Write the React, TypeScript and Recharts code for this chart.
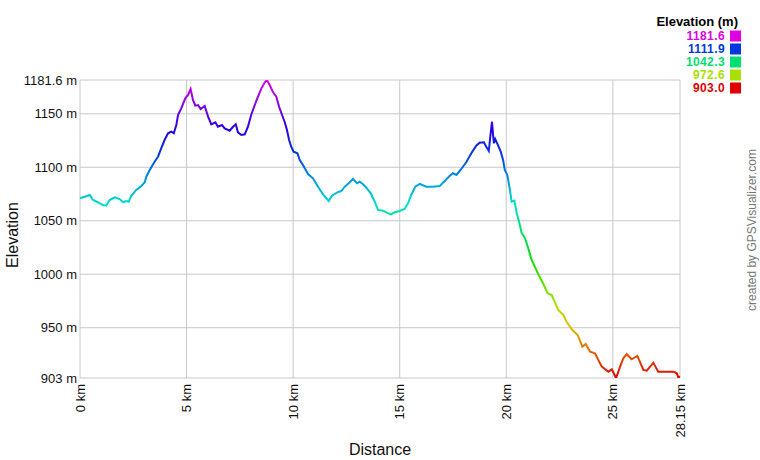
import React from "react";
import {
  LineChart,
  Line,
  XAxis,
  YAxis,
  CartesianGrid,
} from "recharts";

// distance along the track (km) and elevation (m)
const distanceKm = [
  0.0, 0.22, 0.46, 0.61, 0.84, 1.08, 1.23, 1.39, 1.63, 1.86, 2.02, 2.17, 2.28,
  2.41, 2.64, 2.88, 3.04, 3.11, 3.27, 3.5, 3.66, 3.81, 3.97, 4.13, 4.28, 4.4,
  4.52, 4.6, 4.75, 4.94, 5.07, 5.19, 5.3, 5.41, 5.54, 5.66, 5.85, 6.01, 6.16,
  6.35, 6.47, 6.66, 6.79, 7.02, 7.18, 7.31, 7.41, 7.57, 7.73, 7.88, 8.04, 8.2,
  8.35, 8.51, 8.67, 8.77, 8.9, 9.06, 9.21, 9.34, 9.48, 9.6, 9.71, 9.81, 9.91,
  10.02, 10.2, 10.31, 10.46, 10.7, 10.93, 11.17, 11.4, 11.67, 11.82, 12.07,
  12.26, 12.42, 12.61, 12.81, 13.0, 13.12, 13.28, 13.43, 13.64, 13.83, 13.98,
  14.22, 14.37, 14.58, 14.77, 15.0, 15.23, 15.39, 15.54, 15.73, 15.94, 16.25,
  16.56, 16.88, 17.11, 17.35, 17.5, 17.66, 17.89, 18.12, 18.36, 18.59, 18.75,
  18.95, 19.06, 19.18, 19.25, 19.33, 19.38, 19.42, 19.48, 19.61, 19.74, 19.85,
  19.93, 20.05, 20.13, 20.17, 20.25, 20.38, 20.49, 20.6, 20.72, 20.88, 21.03,
  21.19, 21.35, 21.54, 21.74, 21.94, 22.13, 22.29, 22.44, 22.68, 22.83, 23.1,
  23.35, 23.57, 23.73, 23.93, 24.16, 24.48, 24.79, 24.95, 25.15, 25.34, 25.49,
  25.65, 25.88, 26.15, 26.43, 26.59, 26.9, 27.13, 27.45, 27.84, 28.0, 28.07,
  28.15,
];

const elevationM = [
  1071.0, 1072.5, 1074.1, 1069.4, 1067.3, 1064.7, 1064.1, 1069.4, 1071.9,
  1070.3, 1067.3, 1068.5, 1067.8, 1073.4, 1078.8, 1082.5, 1086.0, 1091.2,
  1097.5, 1105.2, 1109.9, 1117.7, 1125.5, 1131.8, 1133.3, 1131.8, 1139.5,
  1148.9, 1155.1, 1164.5, 1167.6, 1173.2, 1162.9, 1157.6, 1158.2, 1154.5,
  1157.3, 1147.3, 1140.2, 1142.1, 1137.9, 1139.5, 1136.4, 1134.2, 1137.9,
  1140.2, 1132.7, 1130.2, 1130.8, 1137.9, 1149.5, 1158.2, 1166.0, 1173.8,
  1179.4, 1181.6, 1176.9, 1170.1, 1166.0, 1156.6, 1148.9, 1142.6, 1134.9,
  1125.5, 1119.2, 1114.6, 1113.1, 1106.8, 1102.1, 1093.7, 1089.7, 1081.8,
  1074.7, 1068.5, 1073.4, 1076.6, 1077.8, 1081.8, 1085.0, 1089.0, 1085.0,
  1086.5, 1084.1, 1080.9, 1075.7, 1067.8, 1060.1, 1059.4, 1057.9, 1056.0,
  1057.9, 1059.1, 1061.0, 1066.3, 1074.1, 1081.8, 1084.4, 1081.8, 1081.8,
  1082.5, 1087.2, 1092.1, 1094.4, 1092.8, 1098.4, 1104.7, 1113.1, 1120.2,
  1123.0, 1123.4, 1119.2, 1115.2, 1128.6, 1142.6, 1130.2, 1122.4, 1126.4,
  1120.8, 1114.6, 1106.8, 1097.5, 1092.8, 1083.4, 1078.8, 1067.8, 1068.8,
  1057.0, 1049.1, 1038.8, 1033.6, 1024.3, 1013.3, 1006.5, 998.6, 990.9, 982.2,
  980.6, 973.4, 966.6, 961.9, 955.6, 947.9, 943.2, 932.3, 934.8, 927.6, 926.1,
  913.6, 908.9, 911.1, 903.0, 913.6, 921.4, 925.4, 920.5, 923.6, 910.5, 909.8,
  917.3, 908.9, 908.9, 908.9, 907.4, 903.7, 904.2,
];

const xTicks = [0, 5, 10, 15, 20, 25, 28.15];
const yTicks = [903, 950, 1000, 1050, 1100, 1150, 1181.6];
const legendValues = ["1181.6", "1111.9", "1042.3", "972.6", "903.0"];

const MIN_ELE = 903;
const MAX_ELE = 1181.6;
const FONT = "Arial, 'Liberation Sans', sans-serif";

// red -> magenta through the hue wheel, like the legend
const hueColor = (ele: number) =>
  `hsl(${(300 * (ele - MIN_ELE)) / (MAX_ELE - MIN_ELE)}, 100%, 44%)`;

const data = distanceKm.map((d, i) => ({ dist: d, ele: elevationM[i] }));

const gradientStops = Array.from({ length: 13 }, (_, i) => i / 12);

const XTick: React.FC<any> = ({ x, y, payload }) => (
  <text
    transform={`translate(${x},${y}) rotate(-90)`}
    textAnchor="end"
    dy="0.35em"
    fontSize={13}
    fontFamily={FONT}
    fill="#111"
  >
    {`${payload.value} km`}
  </text>
);

const YTick: React.FC<any> = ({ x, y, payload }) => (
  <text
    x={x}
    y={y}
    textAnchor="end"
    dy="0.35em"
    fontSize={13}
    fontFamily={FONT}
    fill="#111"
  >
    {`${payload.value} m`}
  </text>
);

export default function App() {
  return (
    <div style={{ position: "relative", width: 760, height: 460, background: "#fff" }}>
      <style>{`body{margin:0}`}</style>
      <LineChart
        width={760}
        height={460}
        data={data}
        margin={{ top: 80, right: 80, left: 0, bottom: 0 }}
      >
        <defs>
          <linearGradient id="eleGrad" x1="0" y1="0" x2="0" y2="1">
            {gradientStops.map((t) => (
              <stop
                key={t}
                offset={t}
                stopColor={hueColor(MAX_ELE - t * (MAX_ELE - MIN_ELE))}
              />
            ))}
          </linearGradient>
        </defs>
        <CartesianGrid stroke="#c8c8c8" strokeWidth={1} />
        <XAxis
          type="number"
          dataKey="dist"
          domain={[0, 28.15]}
          ticks={xTicks}
          interval={0}
          height={82}
          axisLine={false}
          tickLine={false}
          tickSize={0}
          tickMargin={6}
          tick={<XTick />}
        />
        <YAxis
          type="number"
          domain={[MIN_ELE, MAX_ELE]}
          ticks={yTicks}
          interval={0}
          width={80}
          axisLine={false}
          tickLine={false}
          tickSize={0}
          tickMargin={3}
          tick={<YTick />}
          allowDataOverflow
        />
        <Line
          type="linear"
          dataKey="ele"
          stroke="url(#eleGrad)"
          strokeWidth={2}
          dot={false}
          activeDot={false}
          isAnimationActive={false}
        />
      </LineChart>
      <svg
        width={760}
        height={460}
        style={{ position: "absolute", left: 0, top: 0, pointerEvents: "none" }}
        fontFamily={FONT}
      >
        <text x={380} y={455} textAnchor="middle" fontSize={16} fill="#111">
          Distance
        </text>
        <text
          transform="translate(18,235) rotate(-90)"
          textAnchor="middle"
          fontSize={16}
          fill="#111"
        >
          Elevation
        </text>
        <text
          transform="translate(756,230) rotate(-90)"
          textAnchor="middle"
          fontSize={12}
          fill="#777"
        >
          created by GPSVisualizer.com
        </text>
        <text x={738} y={26} textAnchor="end" fontSize={13} fontWeight="bold" fill="#000">
          Elevation (m)
        </text>
        {legendValues.map((v, i) => {
          const cy = 36 + i * 13;
          const c = hueColor(parseFloat(v));
          return (
            <g key={v}>
              <text
                x={725}
                y={cy}
                dy="0.35em"
                textAnchor="end"
                fontSize={12}
                letterSpacing={0.4}
                fontWeight="bold"
                fill={c}
              >
                {v}
              </text>
              <rect x={730} y={cy - 5.5} width={11} height={11} fill={c} />
            </g>
          );
        })}
      </svg>
    </div>
  );
}
